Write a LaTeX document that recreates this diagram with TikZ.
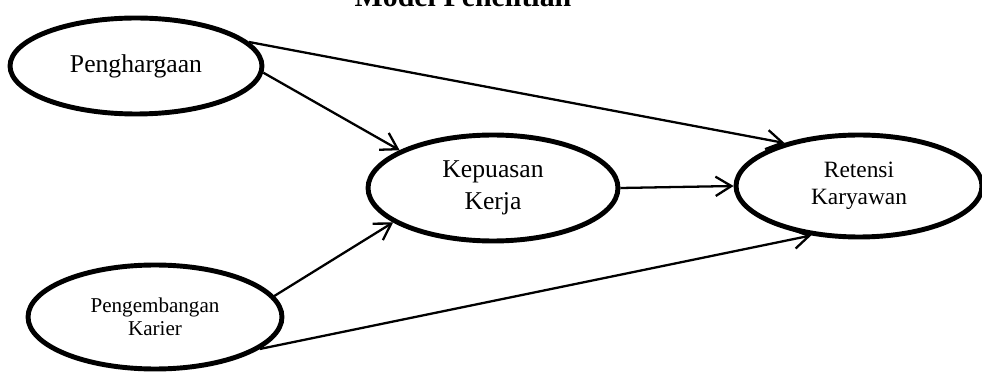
\documentclass[tikz,border=0pt]{standalone}
\usepackage{fontspec}
\setmainfont{Liberation Serif}
\usetikzlibrary{shapes.geometric}
\usetikzlibrary{arrows.meta}
\tikzstyle{varellipse}=[ellipse,draw,line width=2.8pt,inner sep=0pt,align=center]
\tikzstyle{pathlink}=[line width=1.3pt,-{Straight Barb[length=9pt,width=11pt,line width=1.3pt]}]
\newcommand{\varfont}[2]{\fontsize{#1}{#2}\selectfont}% Syntax: {size}{baselineskip}

\begin{document}
\begin{tikzpicture}[x=0.02cm,y=-0.02cm]
  \useasboundingbox (0,0) rectangle (982,374);
  % title, cut by the top edge
  \node[anchor=base,font=\bfseries\varfont{17}{20}] (title) at (463,7) {Model Penelitian};
  % the four variables
  \node[varellipse,minimum width=5.04cm,minimum height=1.92cm,font=\varfont{14.6}{17}] (reward) at (136,66) {Penghargaan};
  \node[varellipse,minimum width=5.0cm,minimum height=2.12cm,font=\varfont{14.6}{18}] (satisf) at (493,188) {Kepuasan\\Kerja};
  \node[varellipse,minimum width=4.92cm,minimum height=2.04cm,font=\varfont{13.3}{15.3}] (retent) at (859,186) {Retensi\\Karyawan};
  \node[varellipse,minimum width=5.08cm,minimum height=2.08cm,font=\varfont{12}{13}] (career) at (155,317) {Pengembangan\\Karier};
  % paths
  \draw[pathlink] (reward.12) -- (retent.150);
  \draw[pathlink] (reward.-3) -- (satisf.158);
  \draw[pathlink] (career.10) -- (satisf.199);
  \draw[pathlink] (career.-17) -- (retent.226);
  \draw[pathlink] (satisf.east) -- (retent.west);
\end{tikzpicture}
\end{document}
